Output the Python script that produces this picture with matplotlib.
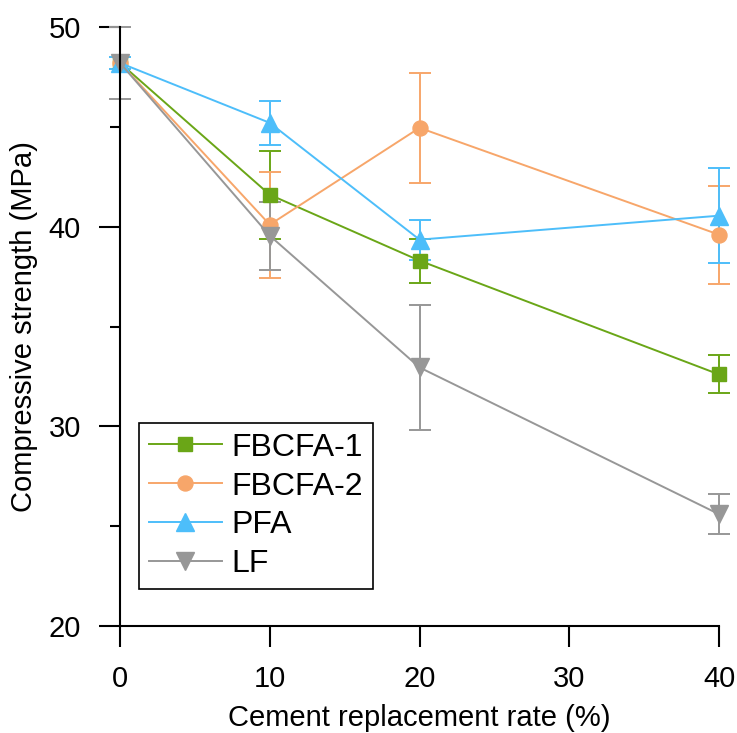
import numpy as np
import matplotlib.pyplot as plt
from matplotlib.ticker import MultipleLocator

plt.rcParams['font.family'] = ['Liberation Sans', 'DejaVu Sans']

# cement replacement rate (%)
rates = [0, 10, 20, 40]

fbcfa1 = [48.2, 41.6, 38.3, 32.6]
fbcfa1_err = [0.3, 2.2, 1.1, 0.95]
fbcfa2 = [48.2, 40.1, 44.95, 39.6]
fbcfa2_err = [0.3, 2.65, 2.75, 2.45]
pfa = [48.2, 45.2, 39.35, 40.55]
pfa_err = [0.3, 1.1, 1.0, 2.37]
lf = [48.2, 39.55, 32.95, 25.6]
lf_err = [1.8, 1.7, 3.15, 1.0]

series = [
    ('FBCFA-1', fbcfa1, fbcfa1_err, '#6aa617', 's', 9.6),
    ('FBCFA-2', fbcfa2, fbcfa2_err, '#f7a66a', 'o', 10.8),
    ('PFA', pfa, pfa_err, '#4dbefa', '^', 13),
    ('LF', lf, lf_err, '#979797', 'v', 13),
]

fig = plt.figure(figsize=(7.37, 7.33), dpi=100)
ax = fig.add_axes([120/737, 107/733, 599/737, 599/733])

handles = []
for name, vals, err, col, mk, ms in series:
    eb = ax.errorbar(rates, vals, yerr=err, color=col, marker=mk, markersize=ms,
                     linewidth=1.4, elinewidth=1.4, capsize=8, capthick=1.4,
                     label=name, clip_on=False)
    handles.append(eb[0])

ax.set_xlim(0, 40)
ax.set_ylim(20, 50)
ax.set_xticks([0, 10, 20, 30, 40])
ax.set_yticks([20, 30, 40, 50])
ax.yaxis.set_minor_locator(MultipleLocator(5))

for s in ['top', 'right']:
    ax.spines[s].set_visible(False)
for s in ['left', 'bottom']:
    ax.spines[s].set_linewidth(1.5)

ax.tick_params(which='major', direction='out', length=15, width=1.5,
               labelsize=21, pad=13)
ax.tick_params(which='minor', direction='out', length=7, width=1.5)

ax.set_xlabel('Cement replacement rate (%)', fontsize=21, labelpad=8)
ax.set_ylabel('Compressive strength (MPa)', fontsize=21, labelpad=8)

leg = ax.legend(handles, [s[0] for s in series], loc='lower left',
                bbox_to_anchor=(0.0317, 0.0618),
                borderaxespad=0, fontsize=23, fancybox=False,
                edgecolor='black', framealpha=1, handlelength=2.3,
                handletextpad=0.3, labelspacing=0.28, borderpad=0.3)
leg.get_frame().set_linewidth(1.2)

fig.savefig('out.png', dpi=100)
